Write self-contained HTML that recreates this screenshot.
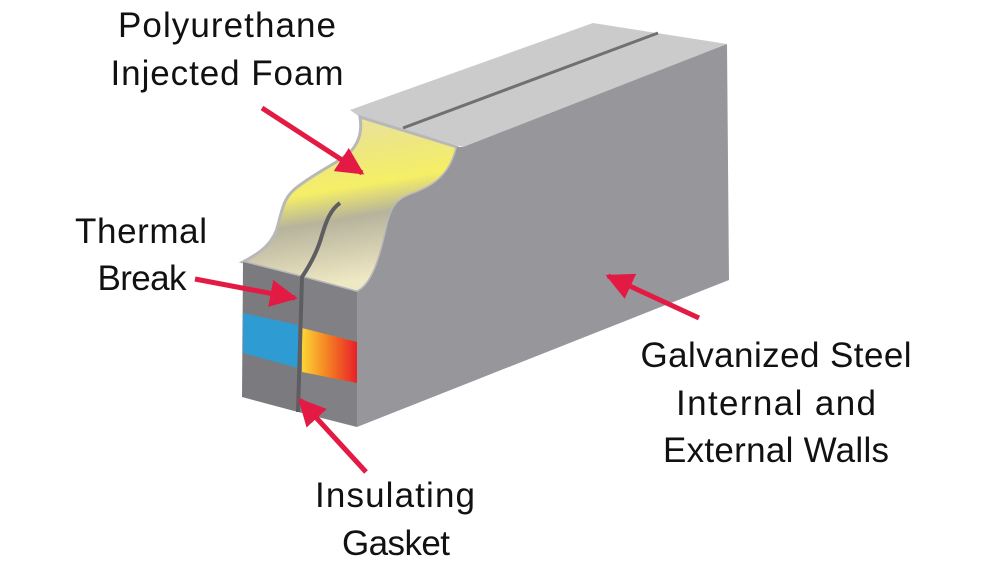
<!DOCTYPE html>
<html><head><style>
html,body{margin:0;padding:0;background:#fff;}
svg{display:block;}
text{font-family:"Liberation Sans",sans-serif;font-size:35px;fill:#111;}
</style></head><body>
<svg width="1000" height="571" viewBox="0 0 1000 571">
<defs>
<linearGradient id="foam" x1="0" y1="0" x2="0.2" y2="1">
<stop offset="0" stop-color="#e6dfb0"/>
<stop offset="0.3" stop-color="#eee77e"/>
<stop offset="0.48" stop-color="#f5ef66"/>
<stop offset="0.65" stop-color="#b7b39c"/>
<stop offset="1" stop-color="#efe8c4"/>
</linearGradient>
<linearGradient id="hot" x1="0" y1="0" x2="1" y2="0">
<stop offset="0" stop-color="#fcd535"/>
<stop offset="0.5" stop-color="#f47a22"/>
<stop offset="1" stop-color="#e8202a"/>
</linearGradient>
<marker id="ah" viewBox="0 0 10 10" refX="9" refY="5" markerWidth="5.5" markerHeight="5.5" orient="auto" markerUnits="strokeWidth">
<path d="M0,0 L10,5 L0,10 z" fill="#e31b44"/>
</marker>
</defs>
<polygon points="350,110 593,23 727,44 463,147 360,117" fill="#cbcbcc"/>
<line x1="403" y1="128" x2="658" y2="33" stroke="#707073" stroke-width="3"/>
<line x1="403" y1="130" x2="402" y2="151" stroke="#606063" stroke-width="3"/>
<path d="M243,262 L302,277 L357,292 C372,285 380,260 387,227 C392,205 398,200 410,195 C430,188 450,178 457,147 L360,117 C362,130 360,140 352,150 C340,162 320,170 300,185 C285,195 283,205 278,225 C274,242 262,252 243,262 Z" fill="url(#foam)" stroke="#b8b8ba" stroke-width="3"/>
<path d="M357,292 C372,285 380,260 387,227 C392,205 398,200 410,195 C430,188 450,178 457,147 L463,147 L727,44 L729,280 L357,427 Z" fill="#97979b"/>
<polygon points="243,262 302,277 298,412 242,397" fill="#7b7b7f"/>
<polygon points="302,277 357,292 357,427 298,412" fill="#818185"/>
<polygon points="243,313 298,325 298,368 243,353" fill="#2f9bd3"/>
<polygon points="302,328 357,342 357,383 302,372" fill="url(#hot)"/>
<path d="M298,412 L302,277 C310,265 318,250 322,235 C326,222 330,210 340,203" fill="none" stroke="#5e5e62" stroke-width="4"/>
<g stroke="#e31b44" stroke-width="5" fill="none" marker-end="url(#ah)">
<line x1="262" y1="108" x2="362" y2="173"/>
<line x1="195" y1="279" x2="295" y2="298"/>
<line x1="699" y1="318" x2="608" y2="276"/>
<line x1="366" y1="472" x2="300" y2="400"/>
</g>
<text x="227" y="37" text-anchor="middle" textLength="218">Polyurethane</text>
<text x="227" y="85" text-anchor="middle" textLength="233">Injected Foam</text>
<text x="141" y="243" text-anchor="middle" textLength="132">Thermal</text>
<text x="142" y="290" text-anchor="middle" textLength="89">Break</text>
<text x="776" y="367" text-anchor="middle" textLength="271">Galvanized Steel</text>
<text x="776" y="415" text-anchor="middle" textLength="200">Internal and</text>
<text x="776" y="462" text-anchor="middle" textLength="226">External Walls</text>
<text x="395" y="507" text-anchor="middle" textLength="160">Insulating</text>
<text x="396" y="555" text-anchor="middle" textLength="108">Gasket</text>
</svg>
</body></html>
